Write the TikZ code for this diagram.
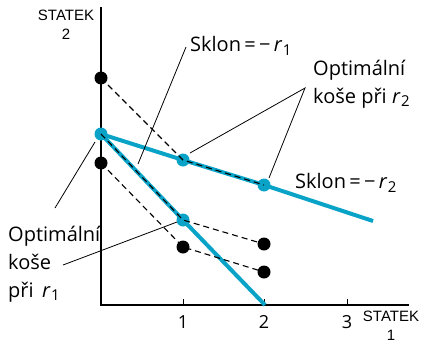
\documentclass[tikz,border=0pt]{standalone}
\usepackage{fontspec}
\setmainfont{Open Sans}
\newfontfamily\axfont{Liberation Sans}
\definecolor{econblue}{HTML}{0AA3C8}
\newcommand{\rsub}[1]{\textit{r}\kern0.5pt\raisebox{-0.3ex}{\fontsize{15}{15}\selectfont #1}}
\begin{document}
\begin{tikzpicture}[x=1pt,y=-1pt,
  axis/.style={line width=2.6pt},
  budget/.style={line width=4pt,color=econblue},
  dashline/.style={dashed,dash pattern=on 6pt off 4pt,line width=1.1pt},
  leader/.style={line width=0.8pt},
  bdot/.style={circle,fill=black,inner sep=0pt,minimum size=13pt},
  cdot/.style={circle,fill=econblue,inner sep=0pt,minimum size=13pt},
  lbl/.style={font=\fontsize{20}{28}\selectfont,inner sep=0pt,align=left},
  axlbl/.style={font=\axfont\fontsize{15}{19}\selectfont,inner sep=0pt,align=center},
  tick/.style={font=\fontsize{18}{20}\selectfont,inner sep=0pt}]
\useasboundingbox (0,0) rectangle (428,340);
% axes
\coordinate (top) at (101,7);
\coordinate (orig) at (101,305);
\coordinate (xend) at (409,305);
\draw[axis] (top) -- (orig) -- (xend);
\foreach \x in {183,264,347}{\draw[line width=1pt] (\x,305) -- (\x,299);}
% points
\coordinate (A0) at (101,78);
\coordinate (B0) at (101,134);
\coordinate (C0) at (101,163);
\coordinate (B1) at (183,160);
\coordinate (B2) at (264,185);
\coordinate (D1) at (183,220);
\coordinate (E1) at (183,247);
\coordinate (D2) at (264,244);
\coordinate (E2) at (264,272);
\coordinate (Bend) at (373,221);
\coordinate (Dend) at (265,305);
% blue lines
\draw[budget] (B0) -- (B1) -- (B2) -- (Bend);
\draw[budget] (B0) -- (D1) -- (Dend);
% dots
\node[cdot] (b0) at (B0) {};
\node[cdot] (b1) at (B1) {};
\node[cdot] (b2) at (B2) {};
\node[cdot] (d1) at (D1) {};
\node[bdot] (a0) at (A0) {};
\node[bdot] (c0) at (C0) {};
\node[bdot] (e1) at (E1) {};
\node[bdot] (d2) at (D2) {};
\node[bdot] (e2) at (E2) {};
% dashed lines
\draw[dashline] (a0.center) -- (b1.center) -- (b2.center);
\draw[dashline] (b0.center) -- (d1.center) -- (d2.center);
\draw[dashline] (c0.center) -- (e1.center) -- (e2.center);
% labels
\node[axlbl] (y2) at (66,25) {STATEK\\2};
\node[axlbl] (x1) at (391,326) {STATEK\\1};
\node[tick] (t1) at (183,322) {1};
\node[tick] (t2) at (264,322) {2};
\node[tick] (t3) at (347,322) {3};
\node[lbl,anchor=west] (s1) at (190,46) {Sklon\,=\,−\,\rsub{1}};
\node[lbl,anchor=west] (s2) at (295,183) {Sklon\,=\,−\,\rsub{2}};
\node[lbl,anchor=north west] (o2) at (313,60) {Optimální\\koše při \rsub{2}};
\node[lbl,anchor=north west] (o1) at (8,226) {Optimální\\koše\\při\, \rsub{1}};
% leader lines
\coordinate (s1tip) at (186,47);
\coordinate (s1end) at (138,164);
\draw[leader] (s1tip) -- (s1end);
\coordinate (o2tip) at (305,88);
\coordinate (o2a) at (190,153);
\coordinate (o2b) at (269,178);
\draw[leader] (o2a) -- (o2tip) -- (o2b);
\coordinate (o1a) at (55,208);
\coordinate (o1ae) at (95,142);
\coordinate (o1b) at (63,265);
\coordinate (o1be) at (177,222);
\draw[leader] (o1a) -- (o1ae);
\draw[leader] (o1b) -- (o1be);
\end{tikzpicture}
\end{document}
